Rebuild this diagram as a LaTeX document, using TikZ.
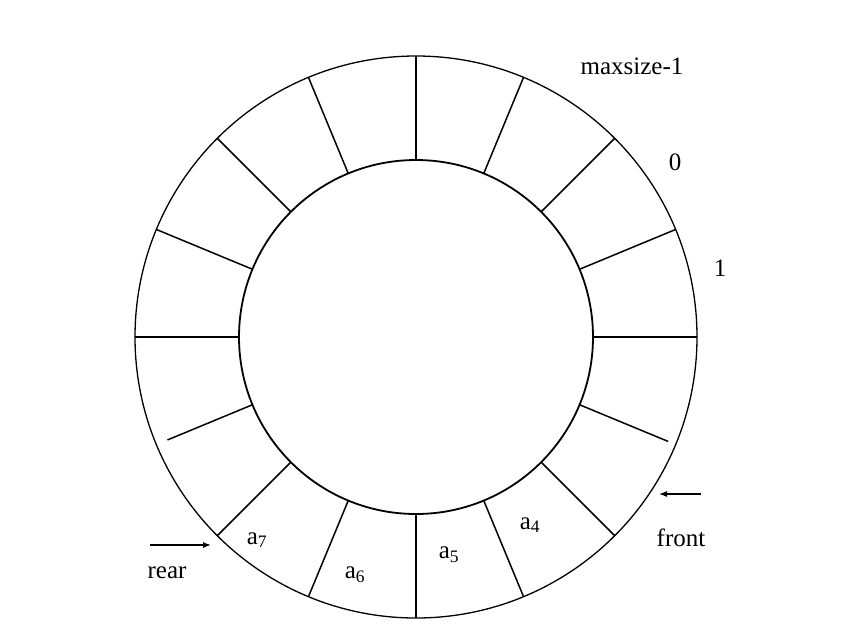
\documentclass[tikz,border=0pt]{standalone}
\usepackage{fontspec}
\setmainfont{Liberation Serif}
\usetikzlibrary{arrows.meta}

\begin{document}
\begin{tikzpicture}[x=1pt,y=-1pt,
    lbl/.style={font=\fontsize{25}{30}\selectfont, inner sep=0pt},
    ptr/.style={-{Latex[length=8pt,width=6pt]}, line width=1.3pt}]
  \useasboundingbox (0,0) rectangle (860,641);
  \coordinate (c) at (416,337);
  % ring
  \draw[line width=1.3pt] (c) circle (281pt);
  \draw[line width=1.8pt] (c) circle (177pt);
  \foreach \a/\l in {0/104,22.5/104,45/104,67.5/104,90/104,112.5/104,135/104,
      157.5/104,180/104,202.5/92,225/104,247.5/104,270/104,292.5/104,315/104,
      337.5/96}
    \draw[line width=1.5pt] (c) ++(\a:177pt) -- ++(\a:\l pt);

  \node[lbl] (max) at (632,66) {maxsize-1};
  \node[lbl] (zero) at (675,162) {0};
  \node[lbl] (one) at (720,268) {1};

  \node[lbl] (a4) at (530,525) {a\textsubscript{4}};
  \node[lbl] (a5) at (449,555) {a\textsubscript{5}};
  \node[lbl] (a6) at (355,575) {a\textsubscript{6}};
  \node[lbl] (a7) at (257,540) {a\textsubscript{7}};

  \node[lbl] (front) at (681,538) {front};
  \node[lbl] (rear) at (167,573) {rear};
  \coordinate (f0) at (701,494);
  \coordinate (f1) at (659,494);
  \coordinate (r0) at (150,545);
  \coordinate (r1) at (211,545);
  \draw[ptr] (f0) -- (f1);
  \draw[ptr] (r0) -- (r1);
\end{tikzpicture}
\end{document}
